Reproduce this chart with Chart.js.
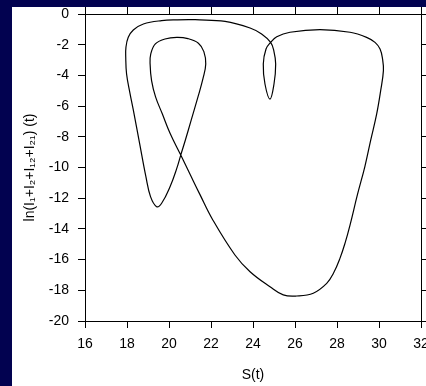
<!DOCTYPE html>
<html>
<head>
<meta charset="utf-8">
<script src="https://cdn.jsdelivr.net/npm/chart.js@4.4.1/dist/chart.umd.min.js"></script>
<style>
  html, body { margin: 0; padding: 0; background: #020250; overflow: hidden; width: 426px; height: 386px; }
  #wrap { position: absolute; left: 12px; top: 7px; width: 414px; height: 379px; background: #ffffff; }
  canvas { display: block; }
</style>
</head>
<body>
<div id="wrap"><canvas id="c" width="414" height="379"></canvas></div>
<script>
// S(t) values along the closed trajectory
const sValues = [
  21.24, 20.40, 19.65, 18.78, 18.30, 18.06, 17.95, 17.94, 17.98, 18.14,
  18.30, 18.60, 18.90, 19.12, 19.41, 19.65, 20.05, 20.37, 20.56, 20.78,
  21.06, 21.38, 21.62, 21.75, 21.66, 21.40, 20.90, 20.37, 19.81, 19.35,
  19.13, 19.10, 19.17, 19.36, 19.68, 20.05, 20.56, 21.02, 21.47, 22.08,
  23.14, 23.86, 24.81, 25.44, 26.08, 26.87, 27.51, 27.83, 28.14, 28.38,
  28.62, 28.97, 29.33, 29.60, 29.89, 30.08, 30.21, 30.17, 30.05, 29.81,
  29.41, 28.62, 27.19, 25.76, 25.13, 24.84, 24.62, 24.49, 24.57, 24.81,
  25.00, 25.08, 24.99, 24.84, 24.41, 23.86, 22.67, 21.24
];
// ln(I1+I2+I12+I21)(t) values along the same trajectory
const lnValues = [
  -0.37, -0.38, -0.43, -0.65, -1.04, -1.52, -2.17, -2.82, -3.91, -5.15,
  -6.25, -8.43, -10.60, -11.90, -12.55, -12.33, -11.25, -10.06, -9.19, -8.21,
  -6.90, -5.40, -4.20, -3.26, -2.45, -1.90, -1.60, -1.52, -1.63, -1.95,
  -2.61, -3.26, -4.34, -5.40, -6.50, -7.77, -9.19, -10.49, -11.75, -13.40,
  -15.70, -16.79, -17.77, -18.30, -18.37, -18.19, -17.55, -16.89, -15.92, -14.94,
  -13.75, -11.79, -9.92, -8.25, -6.51, -4.99, -3.69, -2.93, -2.28, -1.85,
  -1.52, -1.19, -1.02, -1.19, -1.48, -1.85, -2.28, -3.26, -4.56, -5.54,
  -4.56, -3.26, -2.39, -1.85, -1.30, -0.91, -0.48, -0.37
];
const xTitle = 'S(t)';
const yTitle = 'ln(I\u2081+I\u2082+I\u2081\u2082+I\u2082\u2081) (t)';

const points = sValues.map((s, i) => ({ x: s, y: lnValues[i] }));

const FONT = "'Liberation Sans', Arial, Helvetica, sans-serif";
const axisCommon = {
  type: 'linear',
  border: { display: true, color: '#000000', width: 1 },
  grid: { display: true, drawOnChartArea: false, drawTicks: true, tickLength: 7, color: '#000000', lineWidth: 1 },
};

new Chart(document.getElementById('c'), {
  type: 'scatter',
  data: {
    datasets: [{
      data: points,
      showLine: true,
      borderColor: '#000000',
      borderWidth: 1.2,
      pointRadius: 0,
      pointHoverRadius: 0,
      tension: 0.4,
      fill: false,
      xAxisID: 'x',
      yAxisID: 'y'
    }]
  },
  options: {
    responsive: false,
    animation: false,
    events: [],
    layout: { padding: 0 },
    plugins: { legend: { display: false }, tooltip: { enabled: false } },
    scales: {
      x: Object.assign({}, axisCommon, {
        position: 'bottom', min: 16, max: 32,
        ticks: { stepSize: 2, color: '#000000', padding: 8, maxRotation: 0, font: { family: FONT, size: 14 } },
        title: { display: true, text: xTitle, color: '#000000', font: { family: FONT, size: 14 }, padding: { top: 0, bottom: 2 } },
        afterFit: (s) => { s.height = 65; s.paddingLeft = 0; s.paddingRight = 0; }
      }),
      x2: Object.assign({}, axisCommon, {
        position: 'top', min: 16, max: 32,
        ticks: { stepSize: 2, display: false },
        afterFit: (s) => { s.height = 7; s.paddingLeft = 0; s.paddingRight = 0; }
      }),
      y: Object.assign({}, axisCommon, {
        position: 'left', min: -20, max: 0,
        ticks: { stepSize: 2, color: '#000000', padding: 9, font: { family: FONT, size: 14 } },
        title: { display: true, text: yTitle, color: '#000000', font: { family: FONT, size: 14 }, padding: { top: 10, bottom: 0 } },
        afterFit: (s) => { s.width = 73; s.paddingTop = 0; s.paddingBottom = 0; }
      }),
      y2: Object.assign({}, axisCommon, {
        position: 'right', min: -20, max: 0,
        ticks: { stepSize: 2, display: false },
        afterFit: (s) => { s.width = 5; s.paddingTop = 0; s.paddingBottom = 0; }
      })
    }
  }
});
</script>
</body>
</html>
